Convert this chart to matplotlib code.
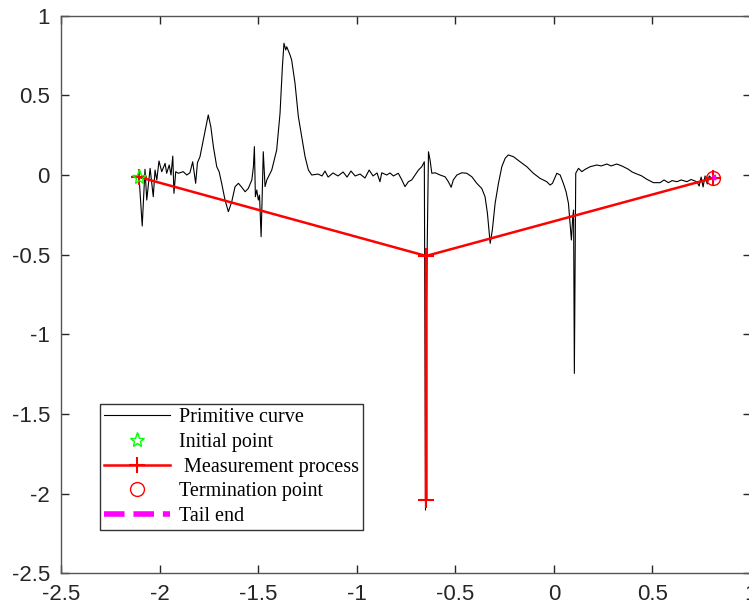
import matplotlib
matplotlib.use("Agg")
import matplotlib.pyplot as plt
from matplotlib.ticker import FormatStrFormatter

plt.rcParams['axes.unicode_minus'] = False

# primitive curve
curve_x = [-2.104, -2.088, -2.074, -2.065, -2.048, -2.032, -2.023, -2.014, -2.003, -1.989,
           -1.972, -1.964, -1.951, -1.942, -1.933, -1.927, -1.918, -1.905, -1.880, -1.862,
           -1.846, -1.832, -1.825, -1.817, -1.808, -1.795, -1.778, -1.764, -1.753, -1.740,
           -1.727, -1.710, -1.698, -1.685, -1.668, -1.651, -1.634, -1.617, -1.600, -1.583,
           -1.566, -1.550, -1.532, -1.524, -1.519, -1.514, -1.507, -1.499, -1.493, -1.485,
           -1.480, -1.474, -1.465, -1.456, -1.431, -1.406, -1.389, -1.377, -1.369, -1.360,
           -1.355, -1.338, -1.330, -1.313, -1.296, -1.279, -1.262, -1.245, -1.228, -1.196,
           -1.176, -1.161, -1.145, -1.120, -1.095, -1.069, -1.049, -1.029, -1.008, -0.983,
           -0.958, -0.937, -0.917, -0.897, -0.882, -0.873, -0.848, -0.831, -0.814, -0.789,
           -0.771, -0.755, -0.738, -0.721, -0.704, -0.687, -0.670, -0.657, -0.651, -0.646,
           -0.636, -0.628, -0.619, -0.602, -0.577, -0.552, -0.535, -0.521, -0.510, -0.492,
           -0.467, -0.442, -0.416, -0.391, -0.366, -0.349, -0.337, -0.323, -0.312, -0.298,
           -0.281, -0.264, -0.247, -0.231, -0.205, -0.171, -0.137, -0.104, -0.070, -0.036,
           -0.019, -0.007, 0.015, 0.032, 0.048, 0.062, 0.074, 0.082, 0.089, 0.096,
           0.100, 0.104, 0.111, 0.125, 0.142, 0.159, 0.184, 0.218, 0.240, 0.269,
           0.290, 0.319, 0.345, 0.378, 0.397, 0.412, 0.446, 0.472, 0.505, 0.539,
           0.559, 0.581, 0.600, 0.624, 0.646, 0.675, 0.696, 0.725, 0.737, 0.747,
           0.757, 0.767, 0.778, 0.788, 0.801, 0.818]
curve_y = [-0.013, -0.320, 0.036, -0.157, 0.042, -0.136, 0.031, -0.031, 0.088, 0.021,
           0.073, 0.011, 0.063, 0.000, 0.119, -0.115, 0.021, 0.011, 0.021, 0.000,
           0.014, 0.083, 0.021, -0.052, 0.077, 0.115, 0.220, 0.303, 0.377, 0.303,
           0.178, 0.052, 0.021, -0.052, -0.157, -0.230, -0.168, -0.073, -0.052, -0.077,
           -0.105, -0.084, -0.031, 0.052, 0.178, -0.136, -0.094, -0.157, -0.126, -0.387,
           -0.157, 0.146, -0.073, -0.031, 0.031, 0.157, 0.387, 0.680, 0.827, 0.785,
           0.805, 0.753, 0.722, 0.576, 0.366, 0.240, 0.115, 0.031, 0.000, 0.006,
           -0.006, 0.025, -0.013, 0.013, -0.006, 0.019, -0.013, 0.025, -0.006, 0.006,
           -0.019, 0.031, -0.006, 0.013, -0.042, 0.014, 0.000, 0.013, -0.006, 0.011,
           -0.031, -0.073, -0.042, -0.031, 0.000, 0.031, 0.052, 0.083, -2.103, -0.785,
           0.146, 0.094, 0.011, 0.014, 0.000, -0.011, -0.042, -0.077, -0.031, 0.000,
           0.014, 0.011, -0.011, -0.052, -0.084, -0.136, -0.240, -0.429, -0.345, -0.178,
           -0.052, 0.052, 0.105, 0.126, 0.115, 0.083, 0.052, 0.011, -0.021, -0.042,
           -0.063, -0.052, 0.011, 0.000, -0.052, -0.105, -0.178, -0.303, -0.408, -0.262,
           -0.220, -1.245, 0.011, 0.042, 0.021, 0.036, 0.052, 0.063, 0.057, 0.069,
           0.057, 0.069, 0.057, 0.036, 0.019, 0.011, -0.006, -0.027, -0.048, -0.048,
           -0.031, -0.048, -0.035, -0.042, -0.031, -0.042, -0.028, -0.042, -0.069, -0.013,
           -0.075, -0.006, -0.056, -0.006, -0.021, -0.014]

# measurement path
meas_x = [-2.104, -0.648, -0.648, -0.648, 0.808]
meas_y = [-0.013, -0.508, -2.040, -0.508, -0.019]

start_pt = (-2.104, -0.013)
end_pt = (0.808, -0.019)
tail_x = [0.804, 0.824]
tail_y = [-0.017, -0.015]

x_ticks = [-2.5, -2, -1.5, -1, -0.5, 0, 0.5, 1]
y_ticks = [-2.5, -2, -1.5, -1, -0.5, 0, 0.5, 1]

fig = plt.figure(figsize=(7.49, 6.08), dpi=100)
ax = fig.add_axes([61 / 749, (608 - 573.3) / 608, 690 / 749, 557.6 / 608])

ax.plot(curve_x, curve_y, color='black', lw=0.8, label='Primitive curve', zorder=2)
ax.plot(*start_pt, linestyle='none', marker='*', ms=11, mfc='none', mec='#00ff00',
        mew=1.0, label='Initial point', zorder=5)
ax.plot(meas_x, meas_y, color='red', lw=1.8, marker='+', ms=11, mew=1.5,
        label=' Measurement process', zorder=3)
ax.plot(*end_pt, linestyle='none', marker='o', ms=10, mfc='none', mec='red',
        mew=1.0, label='Termination point', zorder=5)
ax.plot(tail_x, tail_y, color='magenta', lw=4, linestyle='--', label='Tail end', zorder=6)

ax.set_xlim(-2.5, 1)
ax.set_ylim(-2.5, 1)
ax.set_xticks(x_ticks)
ax.set_yticks(y_ticks)
ax.xaxis.set_major_formatter(FormatStrFormatter('%g'))
ax.yaxis.set_major_formatter(FormatStrFormatter('%g'))
ax.tick_params(direction='in', length=6, width=1, top=True, right=True,
               labelsize=16, colors='#262626', pad=8)
for lab in ax.get_xticklabels() + ax.get_yticklabels():
    lab.set_family('Liberation Sans')
for sp in ax.spines.values():
    sp.set_color('#555555')
    sp.set_linewidth(1)

leg = ax.legend(loc='upper left', bbox_to_anchor=(0.0565, 0.3036), borderaxespad=0,
                prop={'family': 'Liberation Serif', 'size': 14.5}, fancybox=False,
                framealpha=1, edgecolor='#333333', handlelength=3.3, handletextpad=0.4,
                labelspacing=0.28, borderpad=0.2)
leg.get_frame().set_linewidth(1)

fig.savefig('out.png', dpi=100)
